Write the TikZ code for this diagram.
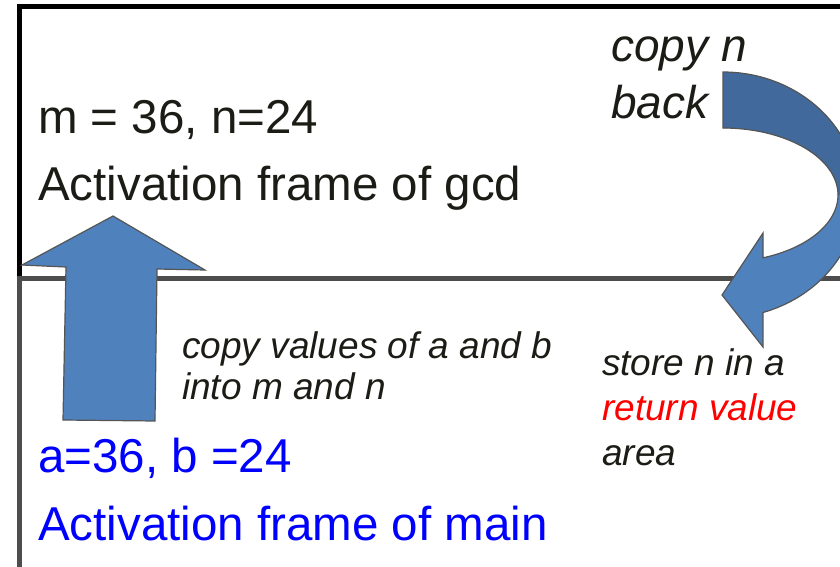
\documentclass[tikz,border=0pt]{standalone}
\usepackage{fontspec}
\setmainfont{Liberation Sans}
\definecolor{txtdark}{RGB}{28,28,22}
\definecolor{pureblue}{RGB}{0,0,255}
\definecolor{purered}{RGB}{255,0,0}
\definecolor{arrowlight}{RGB}{79,129,189}
\definecolor{arrowdark}{RGB}{65,105,156}
\definecolor{edgegray}{RGB}{85,85,85}
\definecolor{framegray}{RGB}{77,77,77}
\newcommand\crvpath{plot[domain=90:-72.8,samples=80,smooth] ({723+135*cos(\x)},{195-123*sin(\x)}) -- (763,347) -- (722,295) -- (763,233) -- plot[domain=-69.6:90,samples=80,smooth] ({723+115*cos(\x)},{195-67*sin(\x)}) -- cycle}
\begin{document}
\begin{tikzpicture}[x=1pt,y=-1pt,
  bigtxt/.style={anchor=base west,inner sep=0pt,font=\fontsize{47.5}{57}\selectfont},
  smalltxt/.style={anchor=base west,inner sep=0pt,font=\fontsize{37}{44}\selectfont\itshape},
  midtxt/.style={anchor=base west,inner sep=0pt,font=\fontsize{46}{55}\selectfont\itshape},
  arrowshape/.style={draw=edgegray,line width=1.2pt,line join=miter}]
\useasboundingbox (0,0) rectangle (840,567);
\clip (0,0) rectangle (840,567);
\fill[white] (0,0) rectangle (840,567);
% frames
\draw[line width=5pt,black] (19.5,6.5) rectangle (900,278);
\draw[line width=5pt,framegray] (19.5,278) rectangle (900,700);
% up arrow
\filldraw[arrowshape,fill=arrowlight] (113,216) -- (205,270) -- (157,269) -- (155,421) -- (63,420) -- (66,267) -- (22,265) -- cycle;
% curved arrow
\fill[arrowlight] \crvpath;
\begin{scope}
\clip \crvpath;
\fill[arrowdark] (650,0) rectangle (860,195);
\end{scope}
\draw[arrowshape] \crvpath;
% texts
\node[bigtxt,text=txtdark] (mn) at (38,133) {m = 36, n=24};
\node[bigtxt,text=txtdark] (gcd) at (38,200) {Activation frame of gcd};
\node[bigtxt,text=pureblue] (ab) at (38,472) {a=36, b =24};
\node[bigtxt,text=pureblue] (main) at (38,540) {Activation frame of main};
\node[midtxt,text=txtdark] (cpn1) at (611,62) {copy n};
\node[midtxt,text=txtdark] (cpn2) at (611,118) {back};
\node[smalltxt,text=txtdark] (cv1) at (182,358) {copy values of a and b};
\node[smalltxt,text=txtdark] (cv2) at (182,399) {into m and n};
\node[smalltxt,text=txtdark] (st1) at (602,375) {store n in a};
\node[smalltxt,text=purered] (st2) at (602,420) {return value};
\node[smalltxt,text=txtdark] (st3) at (602,465) {area};
\end{tikzpicture}
\end{document}
